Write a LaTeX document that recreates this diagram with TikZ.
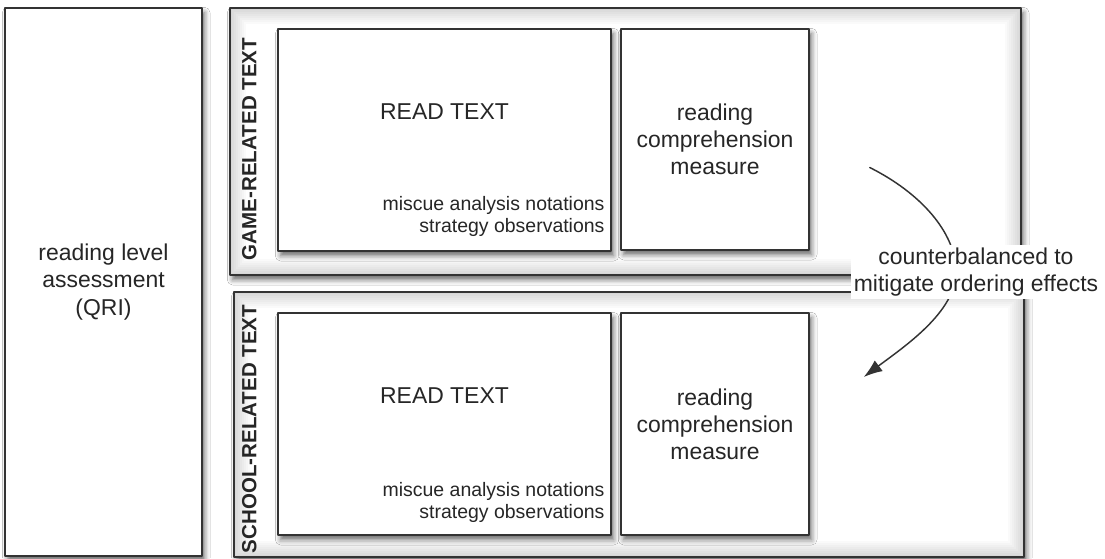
\documentclass[tikz,border=0pt]{standalone}
\usepackage{fontspec}
\setmainfont{Liberation Sans}
\usetikzlibrary{fit, arrows.meta, shadows.blur}

\begin{document}
\begin{tikzpicture}[line join = round, line cap = round, x=0.75pt, y=0.75pt,
    box/.style={draw=black!80, line width=1.1pt, fill=white, inner sep=0pt,
        blur shadow={shadow xshift=2pt, shadow yshift=-3.5pt,
            shadow blur radius=4pt, shadow opacity=60}},
    panel/.style={box, path picture={
        \foreach \w in {3,6,...,24}
            \draw[line width=\w pt, black, opacity=0.018]
                (path picture bounding box.south west) rectangle
                (path picture bounding box.north east);}},
    big/.style={font=\fontsize{17.2}{20.3}\selectfont, align=center, text=black!85},
    small/.style={font=\fontsize{14.6}{16.5}\selectfont, align=right,
        text=black!85, inner sep=0pt},
    side/.style={font=\fontsize{15.4}{18}\selectfont\bfseries, rotate=90, text=black!85}]
    \useasboundingbox (0,0) rectangle (1105,-558);
    \fill[white] (0,0) rectangle (1105,-558);

    % left column
    \node[box, fit={(5,-8) (202,-556)}] (qri) {};
    \node[big] at (qri.center) {reading level\\assessment\\(QRI)};

    % the two text panels
    \node[panel, fit={(230,-8) (1021,-275)}] (game) {};
    \node[panel, fit={(234,-292) (1024,-557)}] (school) {};

    \node[box, fit={(278,-29) (611,-251)}] (gread) {};
    \node[box, fit={(621,-29) (809,-250)}] (gcomp) {};
    \node[box, fit={(278,-313) (611,-535)}] (sread) {};
    \node[box, fit={(621,-313) (809,-535)}] (scomp) {};

    \node[side] at ([shift={(-28,-9)}]gread.west) {GAME-RELATED TEXT};
    \node[side] at ([shift={(-28,-5)}]sread.west) {SCHOOL-RELATED TEXT};

    \node[big] (gtitle) at ([shift={(0,-83)}]gread.north) {READ TEXT};
    \node[small, anchor=south east] (gnotes) at ([shift={(-7,15)}]gread.south east)
        {miscue analysis notations\\strategy observations};
    \node[big] at (gcomp.center) {reading\\comprehension\\measure};

    \node[big] (stitle) at ([shift={(0,-83)}]sread.north) {READ TEXT};
    \node[small, anchor=south east] (snotes) at ([shift={(-7,13)}]sread.south east)
        {miscue analysis notations\\strategy observations};
    \node[big] at (scomp.center) {reading\\comprehension\\measure};

    % swap arrow, passes under its label
    \coordinate (cbfrom) at ([shift={(60,-28)}]gcomp.east);
    \coordinate (cbto) at ([shift={(54,47)}]scomp.east);
    \coordinate (cbmid) at (956,-272);

    \draw[black!80, line width=1.1pt, -{Latex[length=14pt, width=10pt]}]
        (cbfrom) .. controls +(50,-25) and +(0,40) .. (cbmid)
        .. controls +(0,-40) and +(40,30) .. (cbto);

    \node[big, fill=white, inner sep=2pt] (order) at (976,-272)
        {counterbalanced to\\mitigate ordering effects};
\end{tikzpicture}
\end{document}
